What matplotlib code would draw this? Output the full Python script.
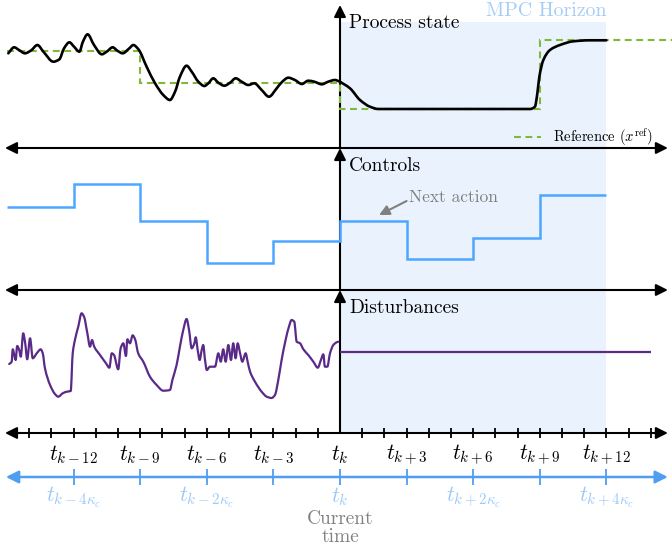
import matplotlib
matplotlib.use("Agg")
import matplotlib.pyplot as plt
from matplotlib.patches import Rectangle, PathPatch
from matplotlib.path import Path

plt.rcParams["font.family"] = "cmr10"
plt.rcParams["mathtext.fontset"] = "cm"
plt.rcParams["axes.formatter.use_mathtext"] = True

# time is measured in sampling steps relative to t_k
x_lo, x_hi = -15.315, 14.955
horizon_end = 12

# process state: measured past trajectory
state_t = [-14.94, -14.68, -14.46, -14.19, -13.92, -13.63, -13.36, -12.91, -12.64, -12.43,
           -12.19, -11.98, -11.74, -11.58, -11.37, -11.08, -10.73, -10.51, -10.24, -10.03,
           -9.79, -9.49, -9.31, -9.08, -8.71, -8.33, -7.96, -7.66, -7.43, -7.21,
           -6.91, -6.68, -6.38, -6.11, -5.93, -5.71, -5.48, -5.21, -4.95, -4.70,
           -4.43, -4.13, -3.86, -3.53, -3.20, -2.85, -2.60, -2.33, -2.03, -1.72,
           -1.43, -1.16, -0.82, -0.53, -0.23, 0.0]
state_x = [9.47, 10.07, 9.8, 9.47, 9.75, 10.3, 9.63, 8.63, 8.87, 9.97,
           10.57, 10.13, 9.63, 10.63, 11.37, 10.3, 9.37, 9.63, 10.07, 9.73,
           9.47, 9.97, 10.3, 9.87, 8.13, 6.47, 5.3, 4.8, 5.63, 7.13,
           8.23, 7.63, 6.63, 6.2, 6.47, 6.97, 6.53, 6.23, 6.53, 6.97,
           6.63, 6.3, 6.47, 5.8, 5.13, 5.97, 6.63, 7.03, 6.8, 6.4,
           6.73, 6.63, 6.37, 6.63, 6.8, 6.63]

# predicted state over the horizon
pred_t = [0.0, 0.45, 0.90, 1.35, 1.73, 8.56, 8.78, 8.89, 8.98, 9.16, 9.46, 9.91, 10.51, 11.26, 12.0]
pred_x = [6.63, 5.97, 4.8, 4.13, 3.9, 3.9, 4.13, 5.47, 7.13, 8.8, 9.8, 10.3, 10.67, 10.77, 10.77]

# setpoint profile
ref_edges = [-15, -9, 0, 9, 15]
ref_vals = [9.75, 6.5, 3.9, 10.8]

# piecewise constant control moves
u_edges = [-15, -12, -9, -6, -3, 0, 3, 6, 9, 12]
u_vals = [8.27, 10.6, 6.9, 2.67, 4.9, 6.93, 3.07, 5.17, 9.5]

# measured disturbance (past) and its assumed constant value (future)
dist_t = [-14.90, -14.79, -14.74, -14.67, -14.61, -14.54, -14.45, -14.38, -14.27, -14.18,
          -14.09, -13.96, -13.84, -13.66, -13.48, -13.39, -13.29, -13.06, -12.84, -12.69,
          -12.49, -12.31, -12.13, -12.04, -11.94, -11.79, -11.64, -11.53, -11.38, -11.26,
          -11.17, -11.07, -10.81, -10.54, -10.39, -10.28, -10.18, -9.99, -9.88, -9.76,
          -9.64, -9.58, -9.46, -9.34, -9.23, -9.09, -8.86, -8.56, -8.26, -7.96,
          -7.66, -7.55, -7.36, -7.21, -7.06, -6.91, -6.80, -6.68, -6.56, -6.50,
          -6.41, -6.32, -6.23, -6.16, -6.08, -6.00, -5.86, -5.63, -5.48, -5.37,
          -5.26, -5.15, -5.03, -4.91, -4.81, -4.70, -4.61, -4.50, -4.40, -4.25,
          -4.16, -4.05, -3.83, -3.53, -3.30, -3.08, -2.93, -2.78, -2.63, -2.45,
          -2.30, -2.18, -2.06, -1.95, -1.80, -1.65, -1.43, -1.20, -1.00, -0.86,
          -0.75, -0.68, -0.57, -0.45, -0.30, -0.15, -0.08]
dist_v = [6.9, 7.13, 8.37, 7.8, 7.3, 8.7, 8.3, 7.63, 9.97, 8.97,
          7.37, 9.47, 7.47, 7.97, 8.37, 7.97, 6.47, 4.8, 3.9, 3.63,
          3.97, 4.13, 4.2, 7.97, 9.3, 10.63, 11.97, 11.63, 9.97, 8.63,
          9.3, 8.63, 7.8, 6.97, 6.53, 7.97, 7.8, 6.37, 8.47, 8.97,
          7.7, 9.37, 8.97, 9.77, 9.37, 7.97, 7.13, 5.63, 4.8, 4.23,
          4.3, 5.3, 6.8, 8.63, 10.3, 11.4, 10.3, 8.47, 8.97, 9.57,
          8.3, 7.3, 8.3, 8.8, 7.3, 6.3, 6.63, 6.63, 7.97, 7.13,
          8.37, 7.13, 8.8, 7.3, 8.97, 7.47, 8.97, 7.97, 7.13, 7.97,
          7.13, 6.13, 5.13, 4.13, 3.63, 3.5, 3.8, 5.3, 7.3, 9.3,
          10.63, 11.3, 11.13, 9.13, 8.97, 8.37, 7.8, 7.13, 6.53, 7.3,
          7.87, 6.63, 6.63, 7.97, 8.8, 9.07, 9.13]
dist_future_edges = [0, 14]
dist_future_val = [8.13]

# time axis labels
fine_ticks = [i for i in range(-14, 15) if i != 0]
label_ticks = [-12, -9, -6, -3, 0, 3, 6, 9, 12]
label_text = [r"$t_{k-12}$", r"$t_{k-9}$", r"$t_{k-6}$", r"$t_{k-3}$", r"$t_k$",
              r"$t_{k+3}$", r"$t_{k+6}$", r"$t_{k+9}$", r"$t_{k+12}$"]
ctrl_ticks = [-12, -9, -6, -3, 0, 3, 6, 9, 12]
ctrl_label_ticks = [-12, -6, 0, 6, 12]
ctrl_label_text = [r"$t_{k-4\kappa_c}$", r"$t_{k-2\kappa_c}$", r"$t_k$",
                   r"$t_{k+2\kappa_c}$", r"$t_{k+4\kappa_c}$"]

c_state = "black"
c_ref = "#7fb83a"
c_u = "#4da6ff"
c_dist = "#5a2a88"
c_shade = "#eaf3fd"
c_horizon = "#a6cdf8"
c_blue_axis = "#4f9ef2"
c_blue_lbl = "#9ccaf8"
c_gray = "#808080"

H = 552
fig = plt.figure(figsize=(6.72, 5.52), dpi=100)

# background axes in (step, pixel row) units for the frame of the diagram
ax = fig.add_axes([0, 0, 1, 1])
ax.set_xlim(x_lo, x_hi)
ax.set_ylim(H, 0)
ax.axis("off")

ax.add_patch(Rectangle((0, 22), horizon_end, 411, color=c_shade, lw=0, zorder=0))
ax.text(horizon_end, 11, "MPC Horizon", color=c_horizon, fontsize=14.3, ha="right", va="center")


def arrow(a, xy_from, xy_to, style="-|>", color="black", lw=1.5, ms=14):
    a.annotate("", xy=xy_to, xytext=xy_from,
               arrowprops=dict(arrowstyle=style + ",head_length=0.5,head_width=0.25",
                               color=color, lw=lw, mutation_scale=ms,
                               shrinkA=0, shrinkB=0))


def smooth_line(a, t, v, **kw):
    # monotone cubic hermite through the samples, drawn as bezier pieces
    n = len(t)
    h = [t[i + 1] - t[i] for i in range(n - 1)]
    d = [(v[i + 1] - v[i]) / h[i] for i in range(n - 1)]
    m = [d[0]] + [0.0] * (n - 2) + [d[-1]]
    for i in range(1, n - 1):
        if d[i - 1] * d[i] > 0:
            w1 = 2 * h[i] + h[i - 1]
            w2 = h[i] + 2 * h[i - 1]
            m[i] = (w1 + w2) / (w1 / d[i - 1] + w2 / d[i])
    verts = [(t[0], v[0])]
    codes = [Path.MOVETO]
    for i in range(n - 1):
        verts += [(t[i] + h[i] / 3, v[i] + m[i] * h[i] / 3),
                  (t[i + 1] - h[i] / 3, v[i + 1] - m[i + 1] * h[i] / 3),
                  (t[i + 1], v[i + 1])]
        codes += [Path.CURVE4] * 3
    a.add_patch(PathPatch(Path(verts, codes), fill=False, capstyle="round",
                          joinstyle="round", **kw))


# panel separators and the time axis
for y in [148, 290, 433]:
    arrow(ax, (-15.09, y), (14.77, y), style="<|-|>")
# current time axis
for y0, y1 in [(433, 290), (290, 148), (148, 5)]:
    arrow(ax, (0, y0), (0, y1))

ax.vlines(fine_ticks, 428, 438, color="black", lw=1.3)
for t, s in zip(label_ticks, label_text):
    ax.text(t, 455, s, fontsize=15.5, ha="center", va="center")

# control interval axis
arrow(ax, (-15.05, 477), (14.77, 477), style="<|-|>", color=c_blue_axis, lw=1.8, ms=15)
ax.vlines(ctrl_ticks, 469, 485, color=c_blue_axis, lw=1.3)
for t, s in zip(ctrl_label_ticks, ctrl_label_text):
    ax.text(t, 497, s, fontsize=15.5, ha="center", va="center", color=c_blue_lbl)
ax.text(0, 528, "Current\ntime", fontsize=14, ha="center", va="center",
        color=c_gray, linespacing=0.95)

ax.text(0.4, 23, "Process state", fontsize=14, ha="left", va="center")
ax.text(0.4, 166, "Controls", fontsize=14, ha="left", va="center")
ax.text(0.4, 308, "Disturbances", fontsize=14, ha="left", va="center")

# pointer to the first move of the plan
ax.text(3.13, 197, "Next action", fontsize=12.5, color=c_gray, ha="left", va="center")
arrow(ax, (3.0, 201), (1.76, 215), color=c_gray, lw=1.5, ms=12)


def panel(top, bottom):
    p = fig.add_axes([0, (H - bottom) / H, 1, (bottom - top) / H])
    p.set_xlim(x_lo, x_hi)
    p.set_ylim(0, (bottom - top) / 10)
    p.patch.set_alpha(0)
    p.axis("off")
    return p


# process state panel
ax1 = panel(5, 148)
ref = ax1.stairs(ref_vals, ref_edges, baseline=None, color=c_ref, lw=1.5,
                 linestyle=(0, (3.3, 2.2)), label=r"Reference ($x^{\rm ref}$)")
smooth_line(ax1, state_t, state_x, color=c_state, lw=1.9)
smooth_line(ax1, pred_t, pred_x, color=c_state, lw=1.9)
ax1.legend(handles=[ref], loc="center right", bbox_to_anchor=(0.972, 0.077),
           frameon=False, fontsize=10.5, handlelength=1.9, handletextpad=0.8,
           borderpad=0, borderaxespad=0)

# controls panel
ax2 = panel(148, 290)
ax2.stairs(u_vals, u_edges, baseline=None, color=c_u, lw=1.8)

# disturbance panel
ax3 = panel(290, 433)
smooth_line(ax3, dist_t, dist_v, color=c_dist, lw=1.6)
ax3.stairs(dist_future_val, dist_future_edges, baseline=None, color=c_dist, lw=1.6)

fig.savefig("out.png", dpi=100)
